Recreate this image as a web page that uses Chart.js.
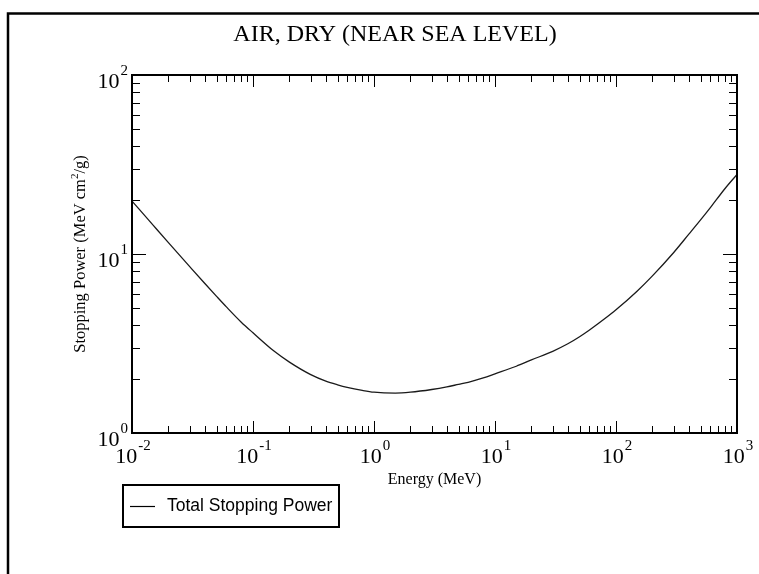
<!DOCTYPE html>
<html>
<head>
<meta charset="utf-8">
<title>Air stopping power</title>
<script src="https://cdn.jsdelivr.net/npm/chart.js@4.4.1/dist/chart.umd.min.js"></script>
<style>
    html, body { margin: 0; padding: 0; background: #fff; }
    #wrap { width: 759px; height: 574px; }
</style>
</head>
<body>
<div id="wrap"><canvas id="spChart" width="759" height="574"></canvas></div>
<script>
// Electron energy (MeV) and total stopping power (MeV cm2/g) for dry air
const energy = [0.01, 0.015, 0.02, 0.03, 0.04, 0.05, 0.06, 0.08, 0.1, 0.15, 0.2, 0.3, 0.4, 0.5, 0.6, 0.8,
    1, 1.5, 2, 3, 4, 5, 6, 8, 10, 15, 20, 30, 40, 50, 60, 80,
    100, 150, 200, 300, 400, 500, 600, 800, 1000];
const totalSP = [19.76, 14.45, 11.58, 8.50, 6.84, 5.80, 5.08, 4.16, 3.63, 2.86, 2.49, 2.12, 1.95, 1.86, 1.80, 1.73,
    1.69, 1.67, 1.69, 1.75, 1.81, 1.87, 1.92, 2.03, 2.14, 2.36, 2.56, 2.86, 3.15, 3.45, 3.75, 4.33,
    4.88, 6.22, 7.55, 10.2, 12.9, 15.5, 18.1, 23.3, 27.8];

// axis decades that get a "10^n" label
const xTicks = [0.01, 0.1, 1, 10, 100, 1000];
const yTicks = [1, 10, 100];

const serif = '"Liberation Serif", "Times New Roman", serif';
const sans = '"Liberation Sans", Arial, sans-serif';

// draws "10" with a raised exponent; anchor is 'center' (x axis) or 'right' (y axis)
function powerLabel(ctx, exp, x, y, anchor) {
    const base = '10', sup = String(exp);
    ctx.font = '22px ' + serif;
    const wb = ctx.measureText(base).width;
    ctx.font = '15px ' + serif;
    const ws = ctx.measureText(sup).width;
    let left = anchor === 'right' ? x - wb - ws - 1 : x - (wb + ws + 1) / 2;
    ctx.textAlign = 'left';
    ctx.textBaseline = 'middle';
    ctx.font = '22px ' + serif;
    ctx.fillText(base, left, y);
    ctx.font = '15px ' + serif;
    ctx.fillText(sup, left + wb + 1, y - 11);
}

const gracePlugin = {
    id: 'graceAxes',
    afterDraw(chart) {
        const ctx = chart.ctx;
        const xs = chart.scales.x, ys = chart.scales.y;
        const area = chart.chartArea;
        ctx.save();
        ctx.fillStyle = '#000';
        ctx.strokeStyle = '#000';

        // page frame
        ctx.lineWidth = 2.5;
        ctx.beginPath();
        ctx.moveTo(8, 574); ctx.lineTo(8, 13.5); ctx.lineTo(759, 13.5);
        ctx.stroke();

        // minor / major ticks on all four sides, pointing inward
        ctx.lineWidth = 1;
        ctx.beginPath();
        for (let d = -2; d < 3; d++) {
            for (let m = 1; m <= 9; m++) {
                const v = m * Math.pow(10, d);
                const px = Math.round(xs.getPixelForValue(v)) + 0.5;
                const len = m === 1 ? 12 : 7;
                ctx.moveTo(px, area.bottom); ctx.lineTo(px, area.bottom - len);
                ctx.moveTo(px, area.top); ctx.lineTo(px, area.top + len);
            }
        }
        for (let d = 0; d < 2; d++) {
            for (let m = 1; m <= 9; m++) {
                const v = m * Math.pow(10, d);
                const py = Math.round(ys.getPixelForValue(v)) + 0.5;
                const len = m === 1 ? 14 : 8;
                ctx.moveTo(area.left, py); ctx.lineTo(area.left + len, py);
                ctx.moveTo(area.right, py); ctx.lineTo(area.right - len, py);
            }
        }
        ctx.stroke();

        // axis box
        ctx.lineWidth = 2;
        ctx.strokeRect(area.left, area.top, area.right - area.left, area.bottom - area.top);

        // tick labels
        xTicks.forEach(v => {
            powerLabel(ctx, Math.round(Math.log10(v)), xs.getPixelForValue(v) + 1, area.bottom + 24, 'center');
        });
        yTicks.forEach(v => {
            powerLabel(ctx, Math.round(Math.log10(v)), area.left - 4, ys.getPixelForValue(v) + 7, 'right');
        });

        // title
        ctx.font = '24px ' + serif;
        ctx.textAlign = 'center';
        ctx.textBaseline = 'alphabetic';
        ctx.fillText('AIR, DRY (NEAR SEA LEVEL)', 395, 41);

        // x axis title
        ctx.font = '16px ' + serif;
        ctx.fillText('Energy (MeV)', (area.left + area.right) / 2, 484);

        // y axis title with superscript 2
        ctx.save();
        ctx.translate(85, (area.top + area.bottom) / 2);
        ctx.rotate(-Math.PI / 2);
        const p1 = 'Stopping Power (MeV cm', p2 = '2', p3 = '/g)';
        ctx.font = '16.5px ' + serif;
        const w1 = ctx.measureText(p1).width, w3 = ctx.measureText(p3).width;
        ctx.font = '11px ' + serif;
        const w2 = ctx.measureText(p2).width;
        let sx = -(w1 + w2 + w3) / 2;
        ctx.textAlign = 'left';
        ctx.font = '16.5px ' + serif;
        ctx.fillText(p1, sx, 0);
        ctx.font = '11px ' + serif;
        ctx.fillText(p2, sx + w1, -7);
        ctx.font = '16.5px ' + serif;
        ctx.fillText(p3, sx + w1 + w2, 0);
        ctx.restore();

        // legend
        ctx.lineWidth = 2;
        ctx.strokeRect(123, 485, 216, 42);
        ctx.lineWidth = 1.2;
        ctx.beginPath();
        ctx.moveTo(130, 506.5); ctx.lineTo(155, 506.5);
        ctx.stroke();
        ctx.font = '17.5px ' + sans;
        ctx.textAlign = 'left';
        ctx.textBaseline = 'middle';
        ctx.fillText(chart.data.datasets[0].label, 167, 506);

        ctx.restore();
    }
};

new Chart(document.getElementById('spChart').getContext('2d'), {
    type: 'line',
    data: {
        datasets: [{
            label: 'Total Stopping Power',
            data: energy.map((e, i) => ({ x: e, y: totalSP[i] })),
            borderColor: '#1a1a1a',
            borderWidth: 1.3,
            pointRadius: 0,
            cubicInterpolationMode: 'monotone',
            fill: false
        }]
    },
    options: {
        responsive: false,
        animation: false,
        layout: { padding: { left: 132, right: 22, top: 75, bottom: 141 } },
        plugins: {
            legend: { display: false },
            tooltip: { enabled: false }
        },
        scales: {
            x: { type: 'logarithmic', min: 0.01, max: 1000, display: false },
            y: { type: 'logarithmic', min: 1, max: 100, display: false }
        }
    },
    plugins: [gracePlugin]
});
</script>
</body>
</html>
